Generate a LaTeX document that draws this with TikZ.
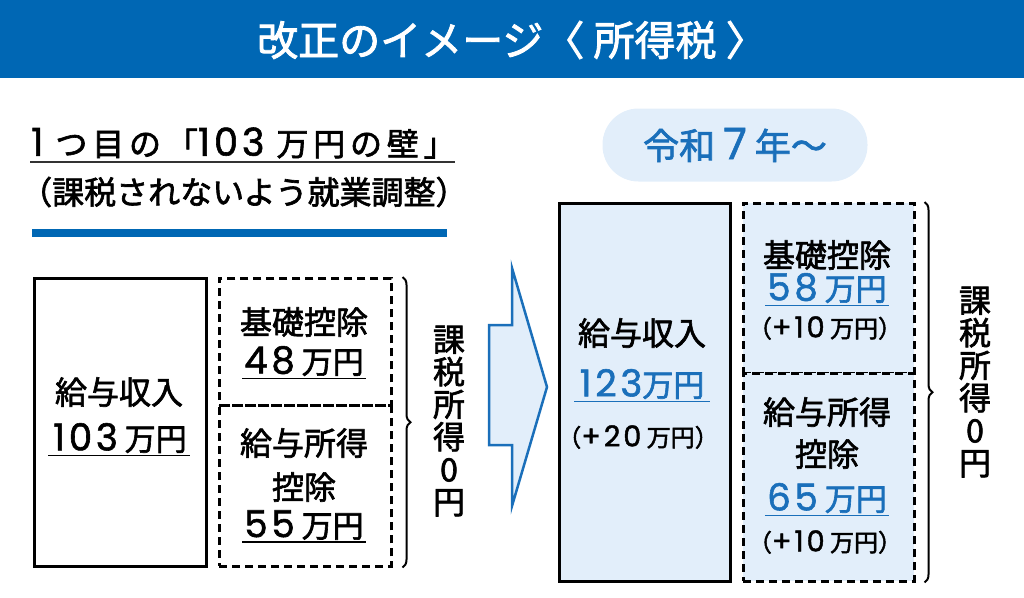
\documentclass[tikz,border=0pt]{standalone}
\usepackage{fontspec}
\setmainfont{Noto Sans CJK JP}[FakeBold=2]
\newfontfamily\numfont{Poppins}[Scale=1.2, FakeBold=1.5, LetterSpace=10]
\usetikzlibrary{decorations.pathreplacing}
\definecolor{hdrblue}{HTML}{0067B4}
\definecolor{txtblue}{HTML}{1A6FBA}
\definecolor{lightfill}{HTML}{E2EEFA}
\newcommand{\jfs}[1]{\fontsize{#1}{#1}\selectfont}
\newcommand{\nm}[1]{{\numfont #1}}
\tikzset{
  solidbox/.style={draw=black, line width=3pt, inner sep=0pt, anchor=north west},
  dashbox/.style={draw=black, line width=2.5pt, dash pattern=on 8pt off 5pt, inner sep=0pt},
  txt/.style={inner sep=0pt, font=\jfs{32}},
  numtxt/.style={inner sep=0pt, font=\jfs{31}},
  smalltxt/.style={inner sep=0pt, font=\jfs{24}},
  bluetxt/.style={text=txtblue},
  ul/.style={line width=1.6pt, draw=black},
  bul/.style={line width=1.6pt, draw=txtblue},
  bracey/.style={draw=black, line width=2pt, decorate, decoration={brace, amplitude=8pt, raise=0pt}},
  vert/.style={inner sep=0pt, align=center, font=\fontsize{32}{32.5}\selectfont},
}
\begin{document}
\begin{tikzpicture}[x=1pt, y=-1pt]
\useasboundingbox (0,0) rectangle (1024,597);
% header
\fill[hdrblue] (0,0) rectangle (1024,78);
\node[inner sep=0pt, text=white, font=\jfs{41}] (title) at (512,40) {改正のイメージ〈 所得税 〉};
% left heading
\node[inner sep=0pt, anchor=west, font=\jfs{32}\addfontfeatures{LetterSpace=15}] (h1) at (31,143) {\nm{1} つ目の「\nm{103} 万円の壁」};
\draw[line width=2pt, draw=black!80] (30,162) -- (455,162);
\node[inner sep=0pt, anchor=west, font=\jfs{32}] (h2) at (20,192) {（課税されないよう就業調整）};
\fill[hdrblue] (32,229) rectangle (447,237);
% left solid box
\node[solidbox, minimum width=172pt, minimum height=288pt] (lin) at (33,277) {};
\node[txt] (lin1) at (119,392) {給与収入};
\node[numtxt] (lin2) at (120,438) {\nm{103} 万円};
\draw[ul] ([xshift=-5pt,yshift=-5pt]lin2.base west) -- ([xshift=3pt,yshift=-5pt]lin2.base east);
% left dashed boxes
\node[dashbox, anchor=north west, minimum width=172pt, minimum height=127pt] (lk) at (218,277) {};
\node[dashbox, anchor=north west, minimum width=172pt, minimum height=161pt] (lg) at (218,404) {};
\node[txt] (lk1) at (304,322) {基礎控除};
\node[numtxt] (lk2) at (304,361) {\nm{48} 万円};
\draw[ul] ([xshift=-2pt,yshift=-5pt]lk2.base west) -- ([xshift=2pt,yshift=-5pt]lk2.base east);
\node[txt] (lg1) at (304,443) {給与所得};
\node[txt] (lg2) at (304,487) {控除};
\node[numtxt] (lg3) at (304,525) {\nm{55} 万円};
\draw[ul] ([xshift=-2pt,yshift=-5pt]lg3.base west) -- ([xshift=2pt,yshift=-5pt]lg3.base east);
% left brace
\draw[bracey] ([xshift=10pt]lk.north east) -- ([xshift=10pt]lg.south east);
\node[vert] (lv) at (449,421) {課\\税\\所\\得\\0\\円};
% arrow
\draw[fill=lightfill, draw=txtblue, line width=2.5pt, line join=miter]
  (489,325) -- (512,325) -- (512,268) -- (547,387) -- (512,506) -- (512,445) -- (489,445) -- cycle;
% pill
\node[fill=lightfill, rounded corners=36pt, minimum width=265pt, minimum height=73pt, inner sep=0pt, text=txtblue, font=\jfs{36}] (year) at (735,145) {令和 \nm{7} 年～};
% right solid box
\node[solidbox, fill=lightfill, minimum width=171pt, minimum height=378pt] (rin) at (558,202) {};
\node[txt] (rin1) at (642,333) {給与収入};
\node[numtxt, bluetxt] (rin2) at (642,384) {\nm{123}万円};
\draw[bul] ([xshift=-5pt,yshift=-5pt]rin2.base west) -- ([xshift=5pt,yshift=-5pt]rin2.base east);
\node[smalltxt] (rin3) at (638,437) {（\nm{+20} 万円）};
% right dashed boxes
\node[dashbox, fill=lightfill, anchor=north west, minimum width=171pt, minimum height=170pt] (rk) at (742,202) {};
\node[dashbox, fill=lightfill, anchor=north west, minimum width=171pt, minimum height=208pt] (rg) at (742,372) {};
\node[txt] (rk1) at (827,255) {基礎控除};
\node[numtxt, bluetxt] (rk2) at (827,288) {\nm{58} 万円};
\draw[bul] ([xshift=-2pt,yshift=-5pt]rk2.base west) -- ([xshift=2pt,yshift=-5pt]rk2.base east);
\node[smalltxt] (rk3) at (825,328) {（\nm{+10} 万円）};
\node[txt] (rg1) at (827,412) {給与所得};
\node[txt] (rg2) at (827,454) {控除};
\node[numtxt, bluetxt] (rg3) at (827,498) {\nm{65} 万円};
\draw[bul] ([xshift=-2pt,yshift=-5pt]rg3.base west) -- ([xshift=2pt,yshift=-5pt]rg3.base east);
\node[smalltxt] (rg4) at (825,542) {（\nm{+10} 万円）};
% right brace
\draw[bracey] ([xshift=9pt]rk.north east) -- ([xshift=9pt]rg.south east);
\node[vert] (rv) at (975,382) {課\\税\\所\\得\\0\\円};
\end{tikzpicture}
\end{document}
